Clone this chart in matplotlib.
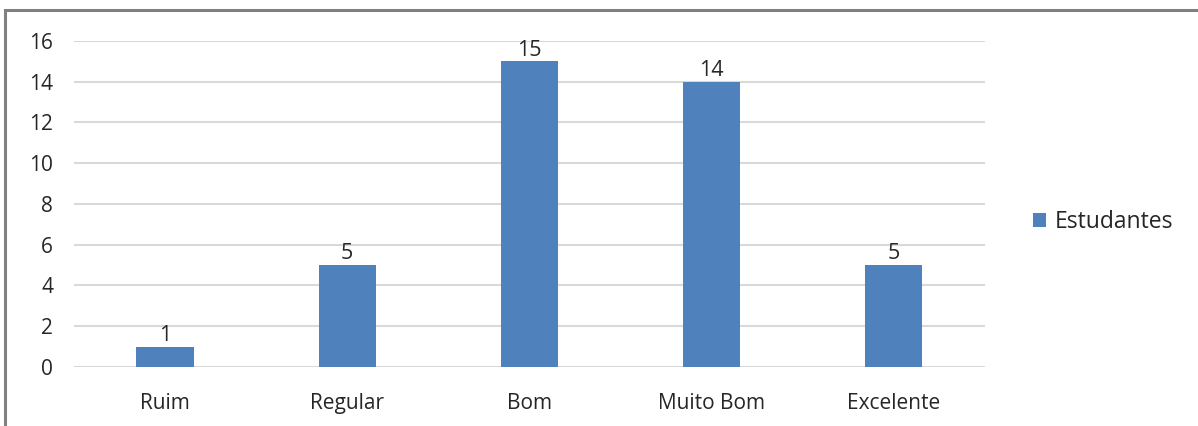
import matplotlib.pyplot as plt
from matplotlib.patches import Rectangle, Patch

categorias = ["Ruim", "Regular", "Bom", "Muito Bom", "Excelente"]
estudantes = [1, 5, 15, 14, 5]
yticks = [0, 2, 4, 6, 8, 10, 12, 14, 16]

bar_color = "#4f81bd"
grid_color = "#d9d9d9"
text_color = "#262626"

plt.rcParams["font.family"] = ["Open Sans", "DejaVu Sans"]

fig = plt.figure(figsize=(11.98, 4.26), dpi=100)
ax = fig.add_axes([0.0618, 0.1385, 0.760, 0.7655])

x = range(len(categorias))
bars = ax.bar(x, estudantes, width=0.315, color=bar_color, zorder=3, label="Estudantes")

for b, v in zip(bars, estudantes):
    ax.annotate(str(v), (b.get_x() + b.get_width() / 2, v), xytext=(0, 0.5),
                textcoords="offset points", ha="center", va="bottom",
                fontsize=15.5, color=text_color)

ax.set_xlim(-0.5, len(categorias) - 0.5)
ax.set_ylim(0, 16)
ax.set_yticks(yticks)
ax.set_xticks(list(x))
ax.set_xticklabels(categorias)
ax.tick_params(axis="x", length=0, labelsize=15, labelcolor=text_color, pad=19)
ax.tick_params(axis="y", length=0, labelsize=15, labelcolor=text_color, pad=15)
ax.grid(axis="y", color=grid_color, linewidth=1.5, zorder=0)
for s in ax.spines.values():
    s.set_visible(False)

fig.legend(handles=[Patch(facecolor=bar_color, label="Estudantes")],
           loc="center left", bbox_to_anchor=(0.845, 0.478), frameon=False,
           fontsize=16.5, handlelength=0.55, handleheight=0.55, handletextpad=0.4,
           labelcolor=text_color)

# outer frame of the chart area
fig.patches.append(Rectangle((5 / 1198, -0.01), 1.2, 1 - 10 / 426 + 0.01,
                             transform=fig.transFigure, fill=False,
                             edgecolor="#808080", linewidth=2.2))

fig.savefig("out.png", dpi=100)
